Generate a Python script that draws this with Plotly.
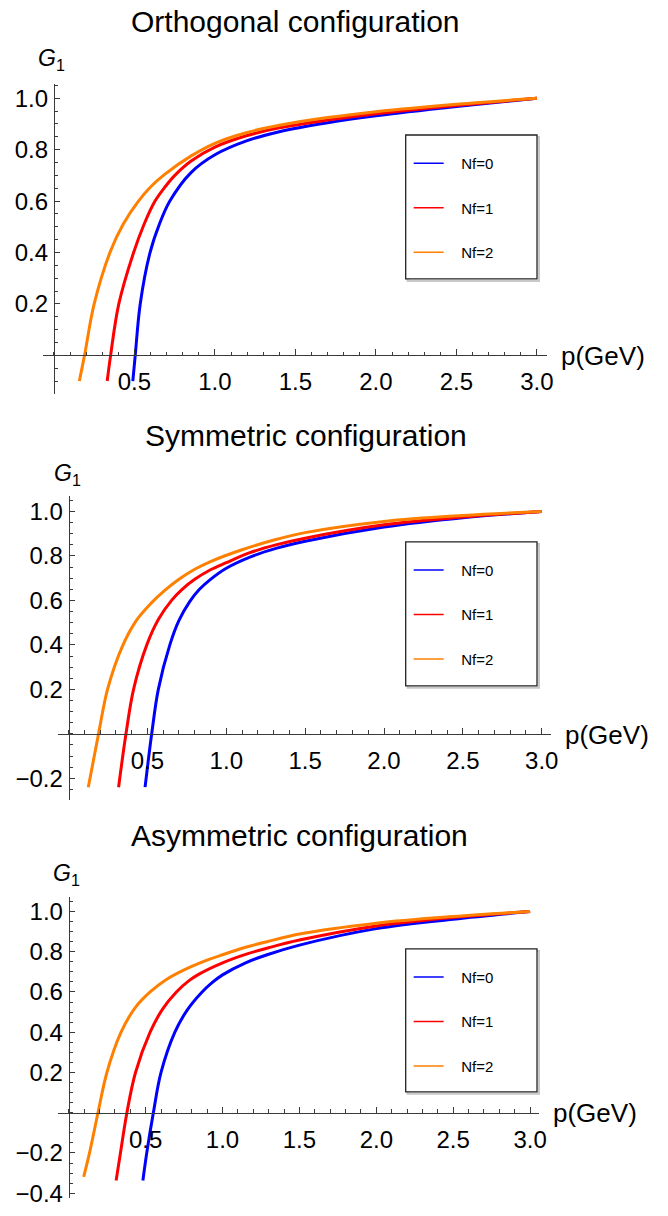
import plotly.graph_objects as go

W, H = 668, 1216
FONT = "Liberation Sans, Arial, Helvetica, sans-serif"

# ---------------- data ----------------
titles = ["Orthogonal configuration", "Symmetric configuration", "Asymmetric configuration"]
series_names = ["Nf=0", "Nf=1", "Nf=2"]
series_colors = ["#0000FF", "#FF0000", "#FF8000"]

x_tick_vals = [0.5, 1.0, 1.5, 2.0, 2.5, 3.0]
x_tick_text = ["0.5", "1.0", "1.5", "2.0", "2.5", "3.0"]

orth_y_ticks = [0.2, 0.4, 0.6, 0.8, 1.0]
sym_y_ticks = [-0.2, 0.2, 0.4, 0.6, 0.8, 1.0]
asym_y_ticks = [-0.4, -0.2, 0.2, 0.4, 0.6, 0.8, 1.0]

# Orthogonal configuration
orth_p_nf0 = [0.490, 0.505, 0.536, 0.597, 0.655, 0.720, 0.850, 1.00, 1.20, 1.40, 1.70, 2.00, 2.50, 3.00]
orth_g_nf0 = [-0.10, 0.00, 0.20, 0.40, 0.51, 0.60, 0.71, 0.78, 0.835, 0.870, 0.905, 0.932, 0.968, 1.00]
orth_p_nf1 = [0.331, 0.352, 0.403, 0.495, 0.560, 0.628, 0.690, 0.751, 0.850, 1.00, 1.20, 1.40, 1.70, 2.00, 2.50, 3.00]
orth_g_nf1 = [-0.10, 0.00, 0.20, 0.40, 0.51, 0.60, 0.655, 0.70, 0.755, 0.81, 0.855, 0.885, 0.915, 0.940, 0.972, 1.00]
orth_p_nf2 = [0.158, 0.190, 0.250, 0.348, 0.430, 0.525, 0.600, 0.690, 0.850, 1.00, 1.20, 1.40, 1.70, 2.00, 2.50, 3.00]
orth_g_nf2 = [-0.10, 0.00, 0.20, 0.40, 0.51, 0.60, 0.655, 0.705, 0.775, 0.825, 0.867, 0.895, 0.925, 0.948, 0.977, 1.00]

# Symmetric configuration
sym_p_nf0 = [0.485, 0.527, 0.569, 0.642, 0.700, 0.768, 0.830, 0.900, 1.00, 1.15, 1.32, 1.50, 2.00, 2.50, 3.00]
sym_g_nf0 = [-0.24, 0.00, 0.20, 0.40, 0.51, 0.595, 0.65, 0.695, 0.745, 0.795, 0.835, 0.866, 0.930, 0.972, 1.00]
sym_p_nf1 = [0.317, 0.364, 0.412, 0.496, 0.570, 0.653, 0.720, 0.800, 0.900, 1.00, 1.15, 1.32, 1.50, 2.00, 2.50, 3.00]
sym_g_nf1 = [-0.24, 0.00, 0.20, 0.40, 0.515, 0.60, 0.65, 0.695, 0.738, 0.77, 0.815, 0.851, 0.880, 0.940, 0.975, 1.00]
sym_p_nf2 = [0.125, 0.190, 0.247, 0.339, 0.430, 0.527, 0.610, 0.700, 0.800, 0.900, 1.10, 1.32, 1.50, 2.00, 2.50, 3.00]
sym_g_nf2 = [-0.24, 0.00, 0.20, 0.39, 0.51, 0.59, 0.645, 0.695, 0.74, 0.775, 0.828, 0.875, 0.905, 0.955, 0.982, 1.00]

# Asymmetric configuration
asym_p_nf0 = [0.482, 0.507, 0.550, 0.600, 0.690, 0.770, 0.861, 0.930, 1.00, 1.15, 1.29, 1.50, 2.00, 2.50, 3.00]
asym_g_nf0 = [-0.337, -0.20, 0.00, 0.20, 0.40, 0.51, 0.595, 0.645, 0.685, 0.745, 0.785, 0.833, 0.915, 0.962, 1.00]
asym_p_nf1 = [0.308, 0.336, 0.378, 0.434, 0.529, 0.610, 0.700, 0.780, 0.850, 1.00, 1.15, 1.30, 1.50, 2.00, 2.50, 3.00]
asym_g_nf1 = [-0.337, -0.20, 0.00, 0.20, 0.40, 0.515, 0.60, 0.655, 0.69, 0.745, 0.787, 0.82, 0.858, 0.928, 0.970, 1.00]
asym_p_nf2 = [0.097, 0.135, 0.190, 0.248, 0.340, 0.430, 0.529, 0.630, 0.750, 0.870, 1.00, 1.15, 1.29, 1.50, 2.00, 2.50, 3.00]
asym_g_nf2 = [-0.319, -0.20, 0.00, 0.20, 0.40, 0.52, 0.60, 0.66, 0.71, 0.75, 0.785, 0.822, 0.850, 0.888, 0.942, 0.975, 1.00]

panel_data = [
    [(orth_p_nf0, orth_g_nf0), (orth_p_nf1, orth_g_nf1), (orth_p_nf2, orth_g_nf2)],
    [(sym_p_nf0, sym_g_nf0), (sym_p_nf1, sym_g_nf1), (sym_p_nf2, sym_g_nf2)],
    [(asym_p_nf0, asym_g_nf0), (asym_p_nf1, asym_g_nf1), (asym_p_nf2, asym_g_nf2)],
]
panel_y_ticks = [orth_y_ticks, sym_y_ticks, asym_y_ticks]

# ---------------- layout geometry (pixels) ----------------
x_range = [-0.067, 3.06]
geom = [
    dict(ox=54.5, oy=358.0, ux=162.7, uy=259.0, yr=[-0.149, 1.054],
         title=(299, 22), g1=(52, 60), pl=(609, 359), leg_box=(410, 136, 542.7, 281)),
    dict(ox=69.3, oy=739.3, ux=159.4, uy=224.0, yr=[-0.298, 1.068],
         title=(309, 439), g1=(68, 478), pl=(613, 740), leg_box=(410, 546, 542.7, 691)),
    dict(ox=69.5, oy=1121.0, ux=155.4, uy=202.7, yr=[-0.423, 1.074],
         title=(303, 842), g1=(67, 881), pl=(601, 1121), leg_box=(410, 956, 542.7, 1100)),
]

AX_COLOR = "#3a3a3a"

fig = go.Figure()
layout = dict(
    width=W, height=H, autosize=False,
    margin=dict(l=0, r=0, t=0, b=0),
    paper_bgcolor="white", plot_bgcolor="rgba(0,0,0,0)",
    font=dict(family=FONT, color="black"),
    showlegend=True,
    annotations=[], shapes=[],
)

for i, g in enumerate(geom):
    k = "" if i == 0 else str(i + 1)
    xa, ya = "x" + k, "y" + k
    for j, (p, v) in enumerate(panel_data[i]):
        fig.add_trace(go.Scatter(
            x=p, y=v, mode="lines",
            line=dict(color=series_colors[j], width=3, shape="spline", smoothing=1.0),
            xaxis=xa, yaxis=ya, showlegend=False, hoverinfo="skip"))
    legname = "legend" + k
    for j in range(3):
        fig.add_trace(go.Scatter(
            x=[None], y=[None], mode="lines", line=dict(color=series_colors[j], width=1.5),
            name="\u00a0\u00a0\u00a0" + series_names[j], xaxis=xa, yaxis=ya,
            legend=legname, legendgroup=f"g{i}{j}", showlegend=True))

    xl = g["ox"] + x_range[0] * g["ux"]
    xr = g["ox"] + x_range[1] * g["ux"]
    yb = g["oy"] - g["yr"][0] * g["uy"]
    yt = g["oy"] - g["yr"][1] * g["uy"]
    yt_ticks = panel_y_ticks[i]
    layout["xaxis" + k] = dict(
        domain=[xl / W, xr / W], range=x_range, anchor="free", position=1 - g["oy"] / H,
        showline=True, linecolor=AX_COLOR, linewidth=1, showgrid=False, zeroline=False,
        ticks="inside", ticklen=6, tickwidth=1, tickcolor=AX_COLOR,
        tickmode="array", tickvals=x_tick_vals, ticktext=x_tick_text,
        tickfont=dict(size=24, family=FONT, color="black"), ticklabelstandoff=5,
        minor=dict(ticks="inside", ticklen=3.5, tickwidth=1, tickcolor=AX_COLOR,
                   tickmode="linear", tick0=0, dtick=0.1, showgrid=False),
        fixedrange=True,
    )
    layout["yaxis" + k] = dict(
        domain=[1 - yb / H, 1 - yt / H], range=g["yr"], anchor="free", position=g["ox"] / W,
        showline=True, linecolor=AX_COLOR, linewidth=1, showgrid=False, zeroline=False,
        ticks="inside", ticklen=5, tickwidth=1, tickcolor=AX_COLOR,
        tickmode="array", tickvals=yt_ticks,
        ticktext=[("\u2212" if t < 0 else "") + f"{abs(t):.1f}" for t in yt_ticks],
        tickfont=dict(size=24, family=FONT, color="black"), ticklabelstandoff=1,
        minor=dict(ticks="inside", ticklen=3, tickwidth=1, tickcolor=AX_COLOR,
                   tickmode="linear", tick0=0, dtick=0.05, showgrid=False),
        fixedrange=True,
    )
    layout["annotations"].append(dict(
        text=titles[i], x=g["title"][0] / W, y=1 - g["title"][1] / H, xref="paper", yref="paper",
        xanchor="center", yanchor="middle", showarrow=False, font=dict(size=30, family=FONT)))
    layout["annotations"].append(dict(
        text="<i>G</i><sub>1</sub>", x=g["g1"][0] / W, y=1 - g["g1"][1] / H, xref="paper", yref="paper",
        xanchor="center", yanchor="middle", showarrow=False, font=dict(size=23, family=FONT)))
    layout["annotations"].append(dict(
        text="p(GeV)", x=g["pl"][0] / W, y=1 - g["pl"][1] / H, xref="paper", yref="paper",
        xanchor="center", yanchor="middle", showarrow=False, font=dict(size=26, family=FONT)))
    bx0, by0, bx1, by1 = g["leg_box"]
    layout["shapes"].append(dict(
        type="rect", xref="paper", yref="paper", x0=(bx0 + 2) / W, x1=(bx1 + 2) / W,
        y0=1 - (by1 + 2) / H, y1=1 - (by0 + 2) / H,
        line=dict(color="#c8c8c8", width=2), fillcolor="rgba(0,0,0,0)", layer="above"))
    layout["shapes"].append(dict(
        type="rect", xref="paper", yref="paper", x0=bx0 / W, x1=bx1 / W,
        y0=1 - by1 / H, y1=1 - by0 / H,
        line=dict(color="#222222", width=1.3), fillcolor="white", layer="above"))
    layout[legname] = dict(
        x=(bx0 + 3) / W, y=1 - (by0 + 12) / H, xanchor="left", yanchor="top",
        bgcolor="rgba(0,0,0,0)", borderwidth=0, tracegroupgap=22,
        font=dict(size=15, family=FONT, color="black"), itemclick=False, itemdoubleclick=False)

fig.update_layout(**layout)
fig.write_html("out.html")
